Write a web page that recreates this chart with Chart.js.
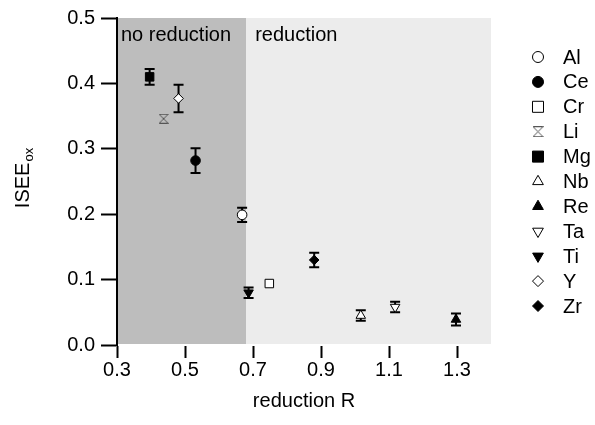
<!DOCTYPE html>
<html><head><meta charset="utf-8">
<script src="https://cdn.jsdelivr.net/npm/chart.js@4/dist/chart.umd.min.js"></script>
<style>html,body{margin:0;padding:0;background:#fff}canvas{display:block}</style>
</head><body>
<canvas id="c" width="595" height="425"></canvas>
<script>
// ---- data ----
const elements   = ['Al', 'Ce', 'Cr', 'Li', 'Mg', 'Nb', 'Re', 'Ta', 'Ti', 'Y', 'Zr'];
const rValues    = [0.668, 0.531, 0.748, 0.437, 0.396, 1.017, 1.297, 1.118, 0.687, 0.481, 0.880];
const iseeValues = [0.199, 0.282, 0.094, 0.346, 0.410, 0.045, 0.039, 0.058, 0.080, 0.377, 0.130];
const iseeErrors = [0.011, 0.019, 0, 0, 0.012, 0.008, 0.009, 0.008, 0.008, 0.021, 0.011];
const xTicks = [0.3, 0.5, 0.7, 0.9, 1.1, 1.3];
const yTicks = [0.0, 0.1, 0.2, 0.3, 0.4, 0.5];
const regionBounds = [0.3, 0.68, 1.4];
const regionLabels = ['no reduction', 'reduction'];
const xTitle = 'reduction R';
const yTitleMain = 'ISEE';
const yTitleSub = 'ox';

// ---- styles ----
const FONT = "'Liberation Sans', Arial, Helvetica, sans-serif";
const markerStyles = ['circle','circle','rect','hourglass','rect','triangle','triangle','triangle','triangle','rectRot','rectRot'];
const markerFilled = [false, true, false, false, true, false, true, false, true, false, true];
const markerRot    = [0, 0, 0, 0, 0, 0, 0, 180, 180, 0, 0];
const regionColors = ['#bdbdbd', '#ececec'];
const regionLabelInset = [4, 9];

function makeHourglass(size, color) {
  const c = document.createElement('canvas');
  c.width = size; c.height = size;
  const g = c.getContext('2d');
  g.strokeStyle = color; g.lineWidth = 1;
  g.beginPath();
  g.moveTo(0.5, 0.5); g.lineTo(size - 0.5, 0.5);
  g.lineTo(0.5, size - 0.5); g.lineTo(size - 0.5, size - 0.5);
  g.closePath(); g.stroke();
  return c;
}
const hgPlot = makeHourglass(10, '#555');
const hgLegend = makeHourglass(11, '#555');

function styleFor(i, legend) {
  const s = markerStyles[i];
  if (s === 'hourglass') return legend ? hgLegend : hgPlot;
  return s;
}
function radiusFor(i, legend) {
  const s = markerStyles[i];
  if (legend) return s === 'rect' ? 7.8 : (s === 'triangle' ? 6.2 : 5.5);
  return s === 'rect' ? 6 : (s === 'triangle' ? 5.5 : 4.8);
}

const datasets = elements.map((el, i) => ({
  label: el,
  data: [{ x: rValues[i], y: iseeValues[i] }],
  pointStyle: styleFor(i, false),
  pointRadius: radiusFor(i, false),
  pointRotation: markerRot[i],
  pointBackgroundColor: markerFilled[i] ? '#000' : '#fff',
  pointBorderColor: '#000',
  pointBorderWidth: 1,
  showLine: false
}));

const regionPlugin = {
  id: 'regions',
  beforeDraw(chart) {
    const { ctx, chartArea: a, scales: { x } } = chart;
    ctx.save();
    for (let k = 0; k < regionLabels.length; k++) {
      const x0 = x.getPixelForValue(regionBounds[k]);
      const x1 = x.getPixelForValue(regionBounds[k + 1]);
      ctx.fillStyle = regionColors[k];
      ctx.fillRect(x0, a.top, x1 - x0, a.bottom - a.top);
      ctx.fillStyle = '#000';
      ctx.font = '20px ' + FONT;
      ctx.textBaseline = 'alphabetic';
      ctx.textAlign = 'left';
      ctx.fillText(regionLabels[k], x0 + regionLabelInset[k], a.top + 23);
    }
    ctx.restore();
  }
};

const errorBarPlugin = {
  id: 'errbars',
  beforeDatasetsDraw(chart) {
    const { ctx, scales: { x, y } } = chart;
    ctx.save();
    ctx.strokeStyle = '#000';
    ctx.lineWidth = 2;
    for (let i = 0; i < elements.length; i++) {
      const e = iseeErrors[i];
      if (!e) continue;
      const px = x.getPixelForValue(rValues[i]);
      const y1 = y.getPixelForValue(iseeValues[i] + e);
      const y2 = y.getPixelForValue(iseeValues[i] - e);
      ctx.beginPath();
      ctx.moveTo(px, y1); ctx.lineTo(px, y2);
      ctx.moveTo(px - 5, y1); ctx.lineTo(px + 5, y1);
      ctx.moveTo(px - 5, y2); ctx.lineTo(px + 5, y2);
      ctx.stroke();
    }
    ctx.restore();
  }
};

const legendPlugin = {
  id: 'sideLegend',
  afterDraw(chart) {
    const { ctx, chartArea: a } = chart;
    const sx = a.right + 47, tx = a.right + 72, top = 57, step = 24.9;
    ctx.save();
    ctx.font = '20px ' + FONT;
    ctx.textBaseline = 'middle';
    ctx.textAlign = 'left';
    for (let i = 0; i < elements.length; i++) {
      const yy = top + i * step;
      ctx.fillStyle = markerFilled[i] ? '#000' : '#fff';
      ctx.strokeStyle = '#000';
      ctx.lineWidth = 1;
      Chart.helpers.drawPoint(ctx, {
        pointStyle: styleFor(i, true), radius: radiusFor(i, true),
        rotation: markerRot[i], borderWidth: 1
      }, sx, yy);
      ctx.fillStyle = '#000';
      ctx.fillText(elements[i], tx, yy + 1);
    }
    ctx.restore();
  }
};

const yTitlePlugin = {
  id: 'yTitle',
  afterDraw(chart) {
    const { ctx, chartArea: a } = chart;
    ctx.save();
    ctx.translate(15, (a.top + a.bottom) / 2 - 3);
    ctx.rotate(-Math.PI / 2);
    ctx.fillStyle = '#000';
    ctx.textBaseline = 'alphabetic';
    ctx.font = '20px ' + FONT;
    const w1 = ctx.measureText(yTitleMain).width;
    ctx.font = '13px ' + FONT;
    const w2 = ctx.measureText(yTitleSub).width;
    const start = -(w1 + w2) / 2;
    ctx.font = '20px ' + FONT;
    ctx.fillText(yTitleMain, start, 14);
    ctx.font = '13px ' + FONT;
    ctx.fillText(yTitleSub, start + w1 + 1, 18);
    ctx.restore();
  }
};

new Chart(document.getElementById('c'), {
  type: 'scatter',
  data: { datasets },
  options: {
    responsive: false,
    animation: false,
    devicePixelRatio: 1,
    layout: { padding: { left: 0, right: 104, top: 15, bottom: 0 } },
    plugins: { legend: { display: false }, tooltip: { enabled: false } },
    scales: {
      x: {
        type: 'linear', min: regionBounds[0], max: regionBounds[regionBounds.length - 1],
        afterBuildTicks(s) { s.ticks = xTicks.map(v => ({ value: v })); },
        afterFit(s) { s.height = 80; },
        ticks: { color: '#000', font: { family: FONT, size: 20 }, padding: 0,
                 callback: v => Number(v).toFixed(1), maxRotation: 0, autoSkip: false },
        grid: { display: true, drawOnChartArea: false, drawTicks: true, tickLength: 13, tickWidth: 2, tickColor: '#000' },
        border: { display: true, color: '#ffffff', width: 2 },
        title: { display: true, text: xTitle, color: '#000', font: { family: FONT, size: 20 }, padding: { top: 0, bottom: 12 } }
      },
      y: {
        type: 'linear', min: 0, max: 0.5,
        afterBuildTicks(s) { s.ticks = yTicks.map(v => ({ value: v })); },
        afterFit(s) { s.width = 117; },
        ticks: { color: '#000', font: { family: FONT, size: 20 }, padding: 6,
                 callback: v => Number(v).toFixed(1) },
        grid: { display: true, drawOnChartArea: false, drawTicks: true, tickLength: 16, tickWidth: 2, tickColor: '#000' },
        border: { display: true, color: '#000', width: 2 }
      }
    }
  },
  plugins: [regionPlugin, errorBarPlugin, legendPlugin, yTitlePlugin]
});
</script>
</body></html>
